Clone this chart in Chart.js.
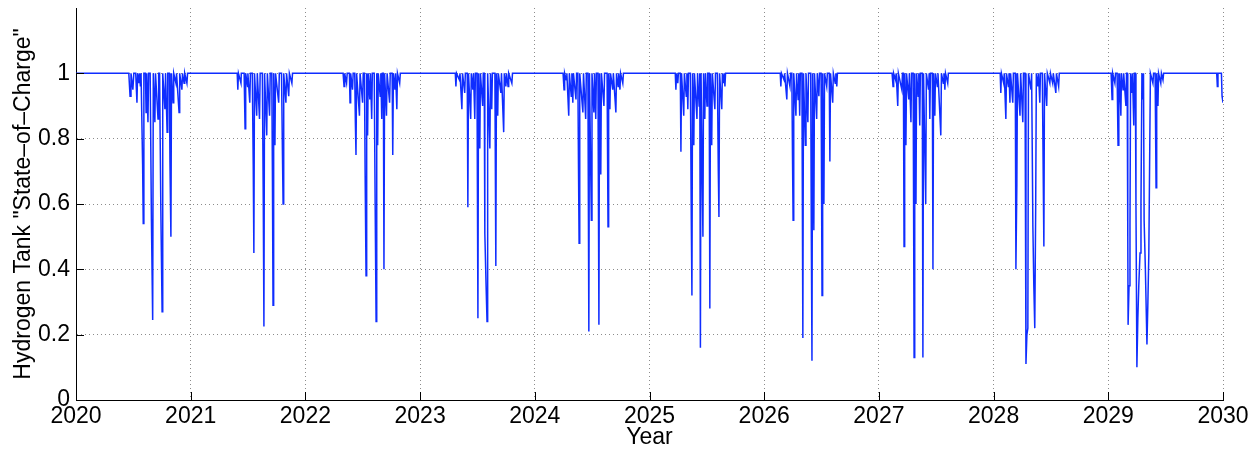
<!DOCTYPE html>
<html>
<head>
<meta charset="utf-8">
<script src="https://cdn.jsdelivr.net/npm/chart.js@4"></script>
<style>
  html, body { margin: 0; padding: 0; background: #fff; }
  #wrap { width: 1260px; height: 451px; }
</style>
</head>
<body>
<div id="wrap"><canvas id="my-chart" width="1260" height="451"></canvas></div>
<script>
// tank state of charge, [day of year, value]
const years = [2020, 2021, 2022, 2023, 2024, 2025, 2026, 2027, 2028, 2029];

const soc2020 = [[168,1],[172,0.93],[175,1],[181,0.95],[184,1],[190,1],[194,0.91],[196,1],[200,0.97],[202,1],[205,0.96],[207,1],
  [210,1],[212,0.72],[214,0.54],[216,1],[221,1],[223,0.88],[225,1],[229,0.85],[231,1],[236,1],[240,0.55],[244,0.245],[246,1],
  [251,0.85],[253,1],[261,0.86],[263,1],[266,1],[270,0.58],[274,0.27],[276,1],[283,0.89],[285,1],[290,0.82],[292,1],
  [297,1],[299,0.73],[302,0.5],[304,1],[309,0.91],[311,1],[318,0.97],[320,1],[328,0.88],[330,1],[337,0.95],[339,1],
  [344,0.97],[346,1],[353,0.97],[355,1]];

const soc2021 = [[148,1],[150,0.95],[152,1],[160,0.97],[161,1],[170,1],[173,0.83],[175,1],[181,0.96],[182,1],[188,0.91],[190,1],
  [196,1],[199,0.72],[201,0.45],[203,1],[210,0.87],[212,1],[219,0.86],[221,1],[228,1],[231,0.6],[233,0.225],[235,1],
  [242,0.81],[244,1],[251,0.87],[253,1],[258,1],[260,0.7],[262,0.29],[264,1],[268,0.78],[270,1],[280,0.91],[282,1],
  [289,1],[292,0.75],[294,0.6],[296,1],[303,0.91],[305,1],[312,0.93],[314,1],[322,0.97],[324,1]];

const soc2022 = [[120,1],[123,0.96],[125,1],[131,0.97],[133,1],[140,1],[142,0.91],[144,1],[150,0.95],[152,1],[157,1],[159,0.85],
  [161,0.75],[163,1],[172,0.87],[174,1],[182,0.91],[184,1],[188,1],[190,0.7],[193,0.38],[195,1],[198,0.81],[200,1],
  [205,0.92],[207,1],[211,0.86],[213,1],[219,1],[222,0.6],[225,0.24],[227,1],[230,0.78],[232,1],[238,0.93],[240,1],
  [243,0.86],[245,1],[248,1],[250,0.4],[252,1],[258,0.87],[260,1],[268,0.91],[270,1],[276,1],[278,0.75],[280,1],
  [285,0.95],[287,1],[291,0.89],[293,1],[300,0.97],[302,1]];

const soc2023 = [[112,1],[114,0.96],[116,1],[125,0.98],[127,1],[133,0.89],[135,1],[142,0.94],[144,1],[150,1],[152,0.59],[154,1],
  [161,0.86],[163,1],[168,0.95],[170,1],[174,0.86],[176,1],[181,1],[184,0.25],[186,1],[190,0.77],[192,1],[199,0.9],[201,1],
  [204,1],[206,0.51],[210,0.35],[213,0.24],[215,1],[222,0.77],[224,1],[228,0.89],[230,1],[238,1],[241,0.41],[243,1],
  [247,0.87],[249,1],[257,0.94],[259,1],[266,0.82],[268,1],[273,0.96],[275,1],[280,0.96],[282,1],[292,0.97],[294,1]];

const soc2024 = [[90,1],[93,0.95],[95,1],[100,0.98],[102,1],[108,0.87],[110,1],[116,0.93],[118,1],[121,0.91],[123,1],[131,0.92],
  [133,1],[137,1],[139,0.72],[141,0.48],[143,1],[153,0.88],[155,1],[162,0.86],[164,1],[169,1],[172,0.21],[174,1],
  [180,0.55],[182,1],[188,0.88],[190,1],[194,0.86],[196,1],[201,1],[204,0.23],[206,1],[210,0.69],[212,1],[220,0.9],[222,1],
  [230,1],[233,0.53],[235,1],[239,0.89],[241,1],[248,0.95],[250,1],[258,0.88],[260,1],[265,0.96],[267,1],[271,0.95],[273,1],
  [280,0.97],[282,1]];

const soc2025 = [[82,1],[84,0.95],[86,1],[90,0.97],[92,1],[98,1],[100,0.76],[102,1],[109,0.87],[111,1],[117,0.93],[119,1],
  [122,0.89],[124,1],[130,1],[133,0.55],[135,0.32],[137,1],[141,0.78],[143,1],[151,0.86],[153,1],[158,0.9],[160,1],
  [162,0.16],[164,1],[170,0.5],[172,1],[176,0.86],[178,1],[183,0.9],[185,1],[190,1],[192,0.28],[194,1],[198,0.78],[200,1],
  [208,0.89],[210,1],[216,1],[219,0.7],[221,0.56],[223,1],[230,0.89],[232,1],[236,0.97],[238,1],[240,0.96],[242,1]];

const soc2026 = [[51,1],[53,0.96],[55,1],[63,0.98],[65,1],[72,0.92],[74,1],[82,0.96],[84,1],[88,1],[90,0.75],[92,0.55],[94,1],
  [101,0.87],[103,1],[108,0.92],[110,1],[113,0.87],[115,1],[120,1],[123,0.19],[125,1],[131,0.78],[133,1],[139,0.85],[141,1],
  [148,1],[150,0.5],[152,0.12],[154,1],[158,0.52],[160,1],[167,0.86],[169,1],[174,0.93],[176,1],[181,1],[184,0.32],[186,1],
  [190,0.6],[192,1],[199,0.96],[201,1],[207,1],[209,0.73],[211,1],[218,0.91],[220,1],[226,0.97],[228,1],[231,0.96],[233,1]];

const soc2027 = [[42,1],[45,0.96],[47,1],[53,0.98],[55,1],[60,0.9],[62,1],[73,0.95],[75,1],[78,1],[80,0.47],[82,1],[86,0.78],
  [88,1],[95,0.92],[97,1],[102,0.85],[104,1],[109,1],[112,0.13],[114,1],[118,0.6],[120,1],[125,0.93],[127,1],[130,0.84],
  [132,1],[138,1],[140,0.13],[142,1],[149,0.6],[151,1],[158,0.95],[160,1],[162,0.86],[164,1],[170,1],[172,0.4],[174,1],
  [178,0.87],[180,1],[186,0.96],[188,1],[197,0.81],[199,1],[205,0.97],[207,1],[210,0.95],[212,1],[219,0.97],[221,1]];

const soc2028 = [[21,1],[23,0.94],[25,1],[32,0.97],[34,1],[39,0.86],[41,1],[47,0.96],[49,1],[52,0.91],[54,1],[61,0.91],[63,1],
  [69,1],[71,0.4],[74,0.66],[76,1],[84,0.87],[86,1],[93,0.85],[95,1],[100,1],[103,0.11],[106,0.2],[109,0.22],[111,1],
  [119,0.95],[121,1],[125,0.53],[128,0.35],[131,0.22],[134,0.6],[136,1],[141,0.96],[143,1],[147,0.91],[149,1],[155,1],
  [160,0.47],[162,1],[169,0.9],[171,1],[179,0.97],[181,1],[188,0.97],[190,1],[198,0.94],[200,1],[207,0.96],[209,1]];

const soc2029 = [[9,1],[12,0.92],[14,1],[21,0.97],[23,1],[28,1],[31,0.78],[33,1],[34,0.9],[36,1],[40,0.87],[42,1],[47,0.95],
  [49,1],[56,0.9],[58,1],[60,1],[62,0.5],[63,0.23],[66,0.35],[69,0.53],[71,1],[75,0.94],[77,1],[81,0.84],[83,1],[86,1],
  [88,0.6],[91,0.1],[94,0.25],[97,0.35],[101,0.45],[104,0.6],[107,1],[110,0.92],[112,1],[114,0.55],[118,0.4],[123,0.17],
  [126,0.3],[129,0.45],[132,0.78],[134,1],[142,0.97],[144,1],[149,1],[152,0.65],[154,1],[158,0.9],[160,1],[167,0.97],
  [169,1],[174,0.98],[176,1],[345,1],[347,0.96],[349,1],[360,1],[362,0.93],[365,0.91]];

const seasons = [soc2020, soc2021, soc2022, soc2023, soc2024, soc2025, soc2026, soc2027, soc2028, soc2029];
const yearTicks = [2020, 2021, 2022, 2023, 2024, 2025, 2026, 2027, 2028, 2029, 2030];
const socTicks = [0, 0.2, 0.4, 0.6, 0.8, 1];

const points = [{ x: 2020, y: 1 }];
seasons.forEach((s, i) => {
    s.forEach(([day, v]) => points.push({ x: years[i] + day / 365, y: v }));
});

const font = { family: '"Liberation Sans", Arial, Helvetica, sans-serif', size: 23 };
const gridColor = 'rgba(120,120,120,0.85)';

// matlab style inward ticks
const inwardTicks = {
    id: 'inwardTicks',
    afterDraw(chart) {
        const c = chart.ctx, xs = chart.scales.x, ys = chart.scales.y;
        const a = chart.chartArea;
        c.save();
        c.strokeStyle = '#000';
        c.lineWidth = 1;
        c.beginPath();
        socTicks.forEach(v => {
            const py = Math.round(ys.getPixelForValue(v)) + 0.5;
            c.moveTo(a.left, py); c.lineTo(a.left + 8, py);
        });
        yearTicks.forEach(v => {
            const px = Math.round(xs.getPixelForValue(v)) + 0.5;
            c.moveTo(px, a.bottom); c.lineTo(px, a.bottom - 8);
        });
        c.stroke();
        c.restore();
    },
};

const ctx = document.getElementById('my-chart').getContext('2d');

let myChart = new Chart(ctx, {
    type: 'line',
    data: {
        datasets: [
            {
                label: 'State-of-Charge',
                data: points,
                borderColor: 'rgb(15,45,255)',
                borderWidth: 1.5,
                pointRadius: 0,
                tension: 0,
                fill: false,
            },
        ],
    },
    options: {
        responsive: false,
        animation: false,
        layout: { padding: { left: 0, right: 37, top: 8, bottom: 0 } },
        plugins: { legend: { display: false }, tooltip: { enabled: false } },
        scales: {
            x: {
                type: 'linear',
                min: 2020,
                max: 2030,
                afterBuildTicks: (s) => { s.ticks = yearTicks.map(v => ({ value: v })); },
                afterFit: (s) => { s.height = 51; s.paddingLeft = 0; s.paddingRight = 0; },
                ticks: { font, color: '#000', padding: 3, maxRotation: 0, autoSkip: false, callback: (v) => String(v) },
                grid: { color: (c) => c.tick && c.tick.value === 2020 ? 'rgba(0,0,0,0)' : gridColor, drawTicks: false },
                border: { display: true, color: '#000', width: 1, dash: [1, 3] },
                title: { display: true, text: 'Year', font, color: '#000', padding: { top: 0, bottom: 0 } },
            },
            y: {
                min: 0,
                max: 1.2,
                afterBuildTicks: (s) => { s.ticks = [0, 0.2, 0.4, 0.6, 0.8, 1, 1.2].map(v => ({ value: v })); },
                afterFit: (s) => { s.width = 76; s.paddingTop = 0; s.paddingBottom = 0; },
                ticks: {
                    font, color: '#000', padding: 6,
                    callback: (v) => socTicks.includes(Math.round(v * 10) / 10) ? String(Math.round(v * 10) / 10) : '',
                },
                grid: { color: (c) => c.tick && (c.tick.value === 0 || c.tick.value > 1.1) ? 'rgba(0,0,0,0)' : gridColor, drawTicks: false },
                border: { display: true, color: '#000', width: 1, dash: [1, 3] },
                title: { display: true, text: 'Hydrogen Tank "State–of–Charge"', font, color: '#000', padding: { top: 10, bottom: 0 } },
            },
        },
    },
    plugins: [inwardTicks],
});
</script>
</body>
</html>
